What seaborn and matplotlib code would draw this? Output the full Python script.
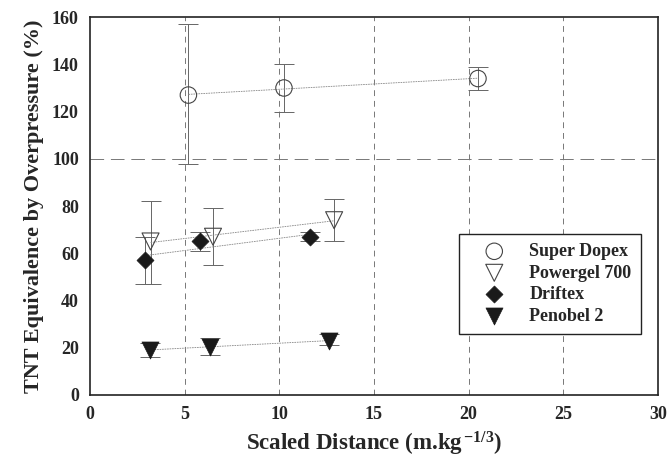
import numpy as np
import pandas as pd
import matplotlib
matplotlib.use("Agg")
import matplotlib.pyplot as plt
import seaborn as sns

series_names = ["Super Dopex", "Powergel 700", "Driftex", "Penobel 2"]
sd_x = [5.2, 10.25, 20.5]
sd_y = [127, 130, 134]
sd_lo = [98, 120, 129]
sd_hi = [157, 140, 139]

pg_x = [3.2, 6.5, 12.9]
pg_y = [65, 67, 74]
pg_lo = [47, 55, 65]
pg_hi = [82, 79, 83]

dr_x = [2.9, 5.8, 11.6]
dr_y = [57, 65, 67]
dr_lo = [47, 61, 65]
dr_hi = [67, 69, 69]

pb_x = [3.15, 6.35, 12.65]
pb_y = [19, 20.5, 23]
pb_lo = [16, 17, 21]
pb_hi = [22, 24, 26]

x_ticks = [0, 5, 10, 15, 20, 25, 30]
y_ticks = [0, 20, 40, 60, 80, 100, 120, 140, 160]

sns.set_style("white")
plt.rcParams["font.family"] = ["Liberation Serif", "DejaVu Serif"]
plt.rcParams["font.weight"] = "bold"
plt.rcParams["mathtext.fontset"] = "custom"
plt.rcParams["mathtext.rm"] = "Liberation Serif:bold"
plt.rcParams["mathtext.bf"] = "Liberation Serif:bold"
plt.rcParams["mathtext.it"] = "Liberation Serif:bold"

fig = plt.figure(figsize=(6.68, 4.58), dpi=100)
ax = fig.add_axes([0.1347, 0.1376, 0.850, 0.825])

styles = [
    dict(marker="o", s=140, facecolor="none", edgecolor="#444444", lw=0.8),
    dict(marker="v", s=150, facecolor="none", edgecolor="#444444", lw=0.8),
    dict(marker="D", s=75, facecolor="#1a1a1a", edgecolor="#1a1a1a", lw=0.5),
    dict(marker="v", s=150, facecolor="#1a1a1a", edgecolor="#1a1a1a", lw=0.5),
]
data = [
    (sd_x, sd_y, sd_lo, sd_hi),
    (pg_x, pg_y, pg_lo, pg_hi),
    (dr_x, dr_y, dr_lo, dr_hi),
    (pb_x, pb_y, pb_lo, pb_hi),
]

# grid
for xv in x_ticks[1:-1]:
    ax.axvline(xv, color="#777777", lw=0.7, ls=(0, (6, 5)), zorder=0)
ax.axhline(100, color="#777777", lw=0.7, ls=(0, (14, 7)), zorder=0)

for name, (xs, ys, lo, hi), st in zip(series_names, data, styles):
    xs = np.array(xs); ys = np.array(ys)
    yerr = [ys - np.array(lo), np.array(hi) - ys]
    ax.errorbar(xs, ys, yerr=yerr, fmt="none", ecolor="#666666", elinewidth=0.7,
                capsize=7, capthick=0.7, zorder=1)
    coef = np.polyfit(xs, ys, 1)
    fx = np.array([xs.min(), xs.max()])
    sns.lineplot(x=fx, y=np.polyval(coef, fx), ax=ax, color="#888888", lw=0.6,
                 ls=(0, (2, 1)), zorder=1)
    df = pd.DataFrame({"x": xs, "y": ys})
    sns.scatterplot(data=df, x="x", y="y", ax=ax, marker=st["marker"], s=st["s"],
                    facecolor=st["facecolor"], edgecolor=st["edgecolor"],
                    linewidth=st["lw"], label=name, zorder=3)

ax.set_xlim(0, 30)
ax.set_ylim(0, 160)
ax.set_xticks(x_ticks)
ax.set_yticks(y_ticks)
ax.tick_params(direction="in", length=5, width=0.6, color="#777777", labelsize=13, pad=8)
for lab in ax.get_xticklabels() + ax.get_yticklabels():
    lab.set_fontweight("bold")
for sp in ax.spines.values():
    sp.set_color("#222222")
    sp.set_linewidth(1.2)

ax.set_xlabel(r"Scaled Distance (m.kg$^{\,\mathbf{-1/3}}$)", fontsize=16.5, fontweight="bold", labelpad=5)
ax.set_ylabel("TNT Equivalence by Overpressure (%)", fontsize=16, fontweight="bold", labelpad=6)

leg = ax.legend(loc="upper left", bbox_to_anchor=(0.65, 0.426), frameon=True, fancybox=False,
                edgecolor="#222222", framealpha=1, fontsize=13, handletextpad=0.5,
                borderpad=0.5, labelspacing=0.25, borderaxespad=0, handlelength=2.9)
leg.get_frame().set_linewidth(1.0)
for t in leg.get_texts():
    t.set_fontweight("bold")

fig.savefig("out.png", dpi=100)
